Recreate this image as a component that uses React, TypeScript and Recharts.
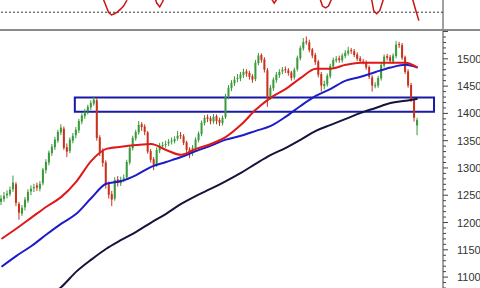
import { ComposedChart, Bar, Line, XAxis, YAxis, ReferenceArea, ReferenceLine } from "recharts";

// Daily candles: open / high / low / close
const opens = [
  1238, 1243, 1250, 1252, 1261, 1270, 1234, 1216, 1228, 1240, 1257, 1263, 1268, 1262, 1272, 1296, 1310, 1327, 1338, 1350,
  1365, 1372, 1338, 1331, 1350, 1360, 1369, 1385, 1395, 1404, 1411, 1418, 1424, 1356, 1331, 1310, 1270, 1252, 1244, 1279,
  1272, 1280, 1283, 1310, 1336, 1354, 1365, 1380, 1376, 1365, 1331, 1316, 1305, 1332, 1340, 1343, 1345, 1349, 1349, 1354,
  1360, 1358, 1347, 1334, 1327, 1336, 1351, 1362, 1382, 1393, 1391, 1385, 1395, 1388, 1382, 1393, 1431, 1446, 1455, 1463,
  1464, 1470, 1477, 1474, 1468, 1463, 1492, 1507, 1499, 1479, 1430, 1446, 1461, 1470, 1477, 1481, 1479, 1475, 1466, 1481,
  1501, 1519, 1532, 1530, 1517, 1507, 1495, 1472, 1450, 1453, 1468, 1486, 1497, 1501, 1497, 1505, 1510, 1516, 1514, 1508,
  1501, 1495, 1493, 1485, 1466, 1450, 1451, 1464, 1488, 1505, 1503, 1495, 1505, 1527, 1525, 1503, 1477, 1452, 1424, 1378,
];
const highs = [
  1250, 1256, 1259, 1266, 1286, 1274, 1238, 1232, 1247, 1261, 1268, 1271, 1273, 1276, 1300, 1316, 1332, 1344, 1357, 1370,
  1380, 1376, 1345, 1356, 1364, 1375, 1390, 1400, 1408, 1416, 1424, 1431, 1428, 1360, 1336, 1314, 1275, 1258, 1283, 1285,
  1284, 1288, 1315, 1340, 1359, 1370, 1386, 1384, 1380, 1368, 1335, 1320, 1338, 1346, 1348, 1350, 1353, 1356, 1358, 1368,
  1366, 1362, 1350, 1338, 1342, 1356, 1367, 1387, 1397, 1398, 1395, 1399, 1398, 1392, 1396, 1436, 1452, 1461, 1468, 1472,
  1476, 1482, 1481, 1478, 1472, 1498, 1511, 1510, 1503, 1483, 1452, 1466, 1476, 1481, 1485, 1486, 1483, 1478, 1484, 1506,
  1524, 1538, 1541, 1535, 1520, 1511, 1498, 1476, 1460, 1473, 1491, 1502, 1505, 1506, 1510, 1516, 1522, 1520, 1518, 1512,
  1505, 1500, 1497, 1488, 1470, 1457, 1469, 1493, 1508, 1509, 1507, 1510, 1533, 1531, 1529, 1506, 1481, 1456, 1428, 1392,
];
const lows = [
  1232, 1238, 1244, 1248, 1256, 1230, 1205, 1212, 1222, 1236, 1250, 1256, 1258, 1257, 1268, 1290, 1305, 1322, 1333, 1346,
  1360, 1333, 1320, 1327, 1345, 1354, 1364, 1380, 1390, 1398, 1406, 1414, 1350, 1322, 1302, 1262, 1244, 1230, 1240, 1266,
  1267, 1274, 1280, 1306, 1332, 1350, 1361, 1368, 1360, 1326, 1310, 1296, 1302, 1327, 1335, 1337, 1340, 1343, 1345, 1350,
  1353, 1342, 1328, 1318, 1322, 1332, 1347, 1358, 1378, 1384, 1380, 1381, 1380, 1377, 1378, 1390, 1426, 1441, 1450, 1457,
  1459, 1465, 1467, 1462, 1456, 1459, 1488, 1493, 1475, 1412, 1425, 1441, 1456, 1465, 1472, 1474, 1469, 1460, 1462, 1477,
  1497, 1515, 1526, 1512, 1501, 1489, 1466, 1440, 1444, 1449, 1464, 1482, 1493, 1493, 1493, 1501, 1506, 1509, 1503, 1496,
  1492, 1490, 1480, 1463, 1440, 1446, 1447, 1460, 1484, 1497, 1492, 1491, 1501, 1520, 1498, 1472, 1447, 1421, 1385, 1360,
];
const closes = [
  1244, 1249, 1253, 1260, 1273, 1236, 1218, 1227, 1242, 1256, 1262, 1265, 1264, 1271, 1297, 1311, 1328, 1339, 1352, 1366,
  1374, 1337, 1330, 1352, 1359, 1370, 1386, 1396, 1403, 1412, 1419, 1425, 1355, 1330, 1309, 1269, 1251, 1242, 1278, 1273,
  1278, 1282, 1311, 1337, 1355, 1366, 1379, 1375, 1366, 1330, 1315, 1306, 1333, 1341, 1342, 1344, 1348, 1350, 1353, 1359,
  1359, 1346, 1333, 1326, 1337, 1352, 1363, 1383, 1392, 1390, 1386, 1394, 1386, 1383, 1392, 1430, 1447, 1456, 1462, 1465,
  1471, 1476, 1473, 1467, 1462, 1493, 1506, 1498, 1480, 1429, 1447, 1462, 1471, 1476, 1480, 1480, 1474, 1465, 1480, 1502,
  1520, 1531, 1531, 1516, 1506, 1494, 1471, 1451, 1454, 1469, 1487, 1498, 1500, 1498, 1506, 1511, 1515, 1515, 1507, 1500,
  1496, 1494, 1484, 1467, 1451, 1452, 1465, 1489, 1504, 1502, 1496, 1506, 1526, 1526, 1502, 1476, 1451, 1425, 1392, 1388,
];

// Moving averages, sampled every 5 sessions (last one at the final session)
const maIndex = [0, 5, 10, 15, 20, 25, 30, 35, 40, 45, 50, 55, 60, 65, 70, 75, 80, 85, 90, 95, 100, 105, 110, 115, 120, 125, 130, 135, 139];
const ma50 = [1170, 1189, 1209, 1229, 1247, 1275, 1313, 1335, 1339, 1342, 1344, 1333, 1324, 1335, 1344, 1357, 1379, 1407, 1429, 1445, 1465, 1482, 1482, 1489, 1493, 1493, 1493, 1493, 1484];
const ma100 = [1119, 1139, 1157, 1178, 1198, 1216, 1245, 1271, 1276, 1287, 1302, 1311, 1320, 1331, 1341, 1352, 1359, 1368, 1377, 1394, 1414, 1432, 1445, 1460, 1467, 1476, 1484, 1489, 1484];
const ma200 = [991, 1015, 1038, 1062, 1082, 1110, 1132, 1152, 1168, 1183, 1200, 1216, 1234, 1249, 1262, 1276, 1291, 1308, 1324, 1337, 1352, 1368, 1379, 1390, 1401, 1410, 1419, 1423, 1427];

// Oscillator in the upper pane (only the dips reach into view)
const oscIndex = [0, 20, 34, 35, 36, 37, 38, 39, 40, 41, 42, 43, 47, 51, 52, 53, 54, 55, 70, 90, 91, 92, 100, 106, 107, 108, 109, 110, 111, 117, 123, 124, 125, 126, 127, 128, 132, 136, 137, 138, 139];
const oscValues = [62, 72, 40, 35, 30, 28.2, 29, 30.2, 32, 34, 37.5, 45, 60, 42, 36, 33.5, 37, 44, 70, 39, 36, 39, 68, 40, 34, 32.8, 34, 38.5, 44, 66, 42, 31, 29, 31, 37, 46, 70, 44, 38, 31, 24.5];
const oscLevel = 30;
const oscTicks = [22, 30, 36];

// Support band drawn as a box
const bandFrom = 25;
const bandTo = 144;
const bandLow = 1403;
const bandHigh = 1429;

const priceLabels = [1100, 1150, 1200, 1250, 1300, 1350, 1400, 1450, 1500];
const SLOTS = 148;

const data = Array.from({ length: SLOTS }, (_, i) => {
  const row: any = { i };
  if (i < closes.length) {
    row.open = opens[i];
    row.close = closes[i];
    row.high = highs[i];
    row.low = lows[i];
    row.range = [lows[i], highs[i]];
  }
  const m = maIndex.indexOf(i);
  if (m >= 0) {
    row.ma50 = ma50[m];
    row.ma100 = ma100[m];
    row.ma200 = ma200[m];
  }
  const o = oscIndex.indexOf(i);
  if (o >= 0) row.osc = oscValues[o];
  return row;
});

// minor ticks every 10 points, labels every 50
const priceTicks: number[] = [];
for (let v = 1080; v <= 1550; v += 10) priceTicks.push(v);

const Candle = (props: any) => {
  const { x, y, width, height, payload } = props;
  if (payload == null || payload.high == null) return null;
  const { open, close, high, low } = payload;
  const k = (high - low) > 0 ? height / (high - low) : 0;
  const yOpen = y + (high - open) * k;
  const yClose = y + (high - close) * k;
  const up = close >= open;
  const color = up ? "#3a9a3a" : "#c8321c";
  const cx = x + width / 2;
  return (
    <g>
      <line x1={cx} x2={cx} y1={y} y2={y + height} stroke={color} strokeWidth={1} />
      <rect x={x} y={Math.min(yOpen, yClose)} width={width} height={Math.max(1, Math.abs(yClose - yOpen))} fill={color} />
    </g>
  );
};

const PriceTick = (props: any) => {
  const { x, y, payload } = props;
  const v = payload.value;
  const major = v % 50 === 0;
  const labelled = priceLabels.includes(v);
  return (
    <g>
      <line x1={x} x2={x + (major ? 5 : 3)} y1={y} y2={y} stroke="#444" strokeWidth={1} />
      {labelled && (
        <text x={x + 14} y={y} dy={4} fontSize={11} fill="#333" fontFamily="Arial, 'Liberation Sans', sans-serif">
          {v}
        </text>
      )}
    </g>
  );
};

export default function App() {
  return (
    <div style={{ position: "absolute", left: 0, top: 0, width: 480, height: 288, background: "#fff", overflow: "hidden" }}>
      <ComposedChart width={480} height={29} data={data} margin={{ top: 0, right: 0, bottom: 0, left: 0 }}>
        <XAxis dataKey="i" type="category" hide />
        <YAxis
          orientation="right"
          width={37}
          domain={[19, 38]}
          allowDataOverflow
          ticks={oscTicks}
          tick={false}
          tickSize={4}
          stroke="#444"
        />
        <ReferenceLine y={oscLevel} stroke="#333" strokeDasharray="2 2" />
        <Line dataKey="osc" stroke="#c81414" strokeWidth={1.5} dot={false} connectNulls isAnimationActive={false} />
      </ComposedChart>
      <div style={{ position: "absolute", left: 0, top: 29, width: 480, height: 2, background: "#8a8a8a" }} />
      <div style={{ position: "absolute", left: 0, top: 31 }}>
        <ComposedChart width={480} height={257} data={data} margin={{ top: 0, right: 0, bottom: 0, left: 0 }} barCategoryGap={0}>
          <XAxis dataKey="i" type="category" hide />
          <YAxis
            orientation="right"
            width={37}
            domain={[1080, 1551]}
            allowDataOverflow
            ticks={priceTicks}
            interval={0}
            tickSize={0}
            tickMargin={0}
            tickLine={false}
            tick={<PriceTick />}
            stroke="#444"
          />
          <Bar dataKey="range" barSize={2} shape={<Candle />} isAnimationActive={false} />
          <Line dataKey="ma200" type="monotone" stroke="#14143c" strokeWidth={2} dot={false} connectNulls isAnimationActive={false} />
          <Line dataKey="ma100" type="monotone" stroke="#1c1cc8" strokeWidth={2} dot={false} connectNulls isAnimationActive={false} />
          <Line dataKey="ma50" type="monotone" stroke="#e01818" strokeWidth={2} dot={false} connectNulls isAnimationActive={false} />
          <ReferenceArea x1={bandFrom} x2={bandTo} y1={bandLow} y2={bandHigh} fill="none" fillOpacity={0} stroke="#1a1aa8" strokeWidth={2} />
        </ComposedChart>
      </div>
    </div>
  );
}
